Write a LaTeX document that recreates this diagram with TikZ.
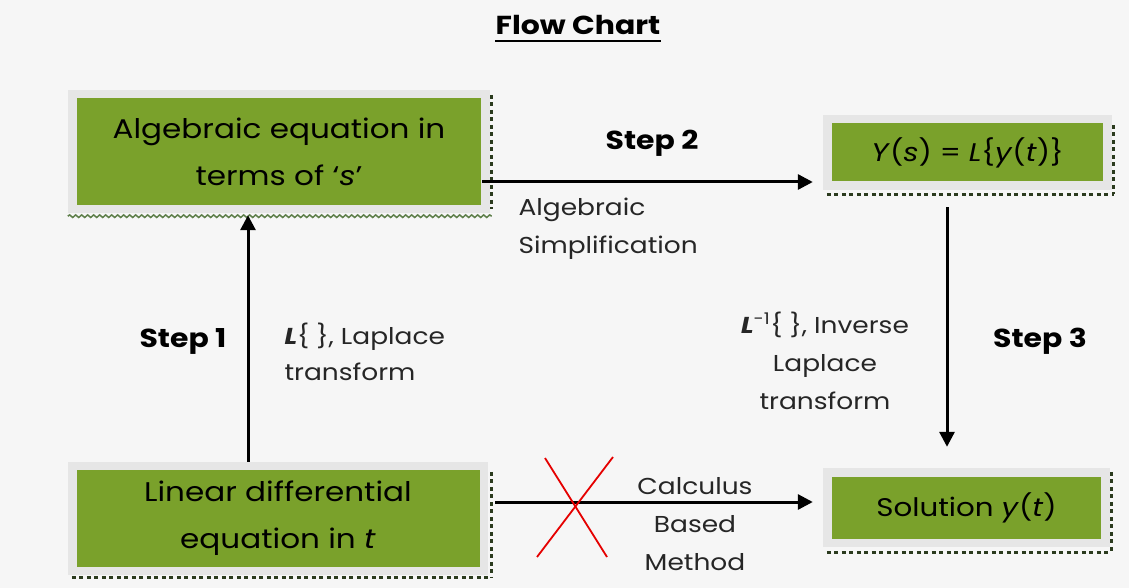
\documentclass[tikz,border=0pt]{standalone}
\usepackage{fontspec}
\setmainfont[FakeStretch=1.15]{Poppins}
\usetikzlibrary{arrows.meta,decorations.pathmorphing}
\definecolor{bgc}{HTML}{F6F6F6}
\definecolor{boxgreen}{HTML}{7AA12B}
\definecolor{boxgray}{HTML}{E6E6E6}
\definecolor{dotc}{HTML}{2B3B1E}
\definecolor{wavec}{HTML}{5E7F4A}
\tikzset{
  outerbox/.style={fill=boxgray, inner sep=0pt},
  greenbox/.style={fill=boxgreen, inner sep=0pt, align=center, font=\fontsize{27}{47}\selectfont},
  smallgreen/.style={greenbox, font=\fontsize{25.5}{30}\selectfont},
  dotline/.style={draw=dotc, line width=3pt, dash pattern=on 4pt off 3.5pt},
  arr/.style={draw=black, line width=3pt, -{Triangle[length=15pt,width=15pt]}},
  lbl/.style={font=\fontsize{23}{38}\selectfont, align=center, text=black!85},
  steplbl/.style={font=\fontsize{26}{30}\selectfont\bfseries},
  cross/.style={draw=red!90!black, line width=1.8pt}
}
\begin{document}
\begin{tikzpicture}[x=1pt,y=-1pt]
\fill[bgc] (0,0) rectangle (1129,588);
\useasboundingbox (0,0) rectangle (1129,588);
% title
\node[font=\fontsize{26}{30}\selectfont\bfseries] (title) at (578,25) {Flow Chart};
\draw[line width=2.6pt] (495,41) -- (661,41);
% box A
\node[outerbox, minimum width=422pt, minimum height=123pt] (A) at (279,151.5) {};
\node[greenbox, minimum width=404pt, minimum height=107pt] (Ain) at (A) {Algebraic equation in\\terms of `\textit{s}'};
\draw[dotline] ([xshift=1.5pt,yshift=-5pt]A.north east) -- ([xshift=1.5pt,yshift=4pt]A.south east);
\draw[draw=wavec, line width=1.5pt, decorate, decoration={snake, amplitude=1.3pt, segment length=6pt}] ([yshift=-3pt]A.south west) -- ([xshift=1.5pt,yshift=-3pt]A.south east);
% box B
\node[outerbox, minimum width=289pt, minimum height=75pt] (B) at (967.5,152.5) {};
\node[smallgreen, minimum width=271pt, minimum height=58pt] (Bin) at (B) {\textit{Y}(\textit{s}) = \textit{L}\{\textit{y}(\textit{t})\}};
\draw[dotline] ([xshift=1.5pt,yshift=-10pt]B.north east) -- ([xshift=1.5pt,yshift=-4pt]B.south east);
\draw[dotline] ([xshift=4pt,yshift=-4pt]B.south west) -- ([xshift=1.5pt,yshift=-4pt]B.south east);
% box C
\node[outerbox, minimum width=420pt, minimum height=113pt] (C) at (278,518.5) {};
\node[greenbox, minimum width=403pt, minimum height=97pt] (Cin) at (C) {Linear differential\\equation in \textit{t}};
\draw[dotline] ([xshift=3pt,yshift=-10pt]C.north east) -- ([xshift=3pt,yshift=-2pt]C.south east);
\draw[dotline] ([xshift=4pt,yshift=-2pt]C.south west) -- ([xshift=3pt,yshift=-2pt]C.south east);
% box D
\node[outerbox, minimum width=287pt, minimum height=79pt] (D) at (966.5,507.5) {};
\node[smallgreen, minimum width=269pt, minimum height=62pt] (Din) at (D) {Solution \textit{y}(\textit{t})};
\draw[dotline] ([xshift=1.5pt,yshift=-4pt]D.north east) -- ([xshift=1.5pt,yshift=-5pt]D.south east);
\draw[dotline] ([xshift=4pt,yshift=-5pt]D.south west) -- ([xshift=1.5pt,yshift=-5pt]D.south east);
% helper coordinates
\coordinate (x1) at (248,0);
\coordinate (y2) at (0,182);
\coordinate (x3) at (947,0);
\coordinate (y4) at (0,502);
% arrows
\draw[arr, shorten >=2pt] (C.north -| x1) -- (A.south -| x1);
\draw[arr, shorten <=1pt, shorten >=10pt] (Ain.east |- y2) -- (B.west |- y2);
\draw[arr, shorten <=17pt, shorten >=21pt] (B.south -| x3) -- (D.north -| x3);
\draw[arr, shorten <=7pt, shorten >=10pt] (C.east |- y4) -- (D.west |- y4);
% cross
\coordinate (c1) at (545,458);
\coordinate (c2) at (607,557);
\coordinate (c3) at (613,457);
\coordinate (c4) at (537,557);
\draw[cross] (c1) -- (c2);
\draw[cross] (c3) -- (c4);
% labels
\node[steplbl] (s2) at (652,143) {Step 2};
\node[lbl, align=left, anchor=west] (simp) at (515,229) {Algebraic\\Simplification};
\node[steplbl] (s1) at (183,341) {Step 1};
\node[lbl, align=left, anchor=west, font=\fontsize{23}{36}\selectfont] (lap) at (281,352) {\textbf{\textit{L}}\{ \}, Laplace\\transform};
\node[lbl] (inv) at (825,361) {\textbf{\textit{L}}\textsuperscript{-1}\{ \}, Inverse\\Laplace\\transform};
\node[steplbl] (s3) at (1040,341) {Step 3};
\node[lbl] (calc) at (695,524) {Calculus\\Based\\Method};
\end{tikzpicture}
\end{document}
